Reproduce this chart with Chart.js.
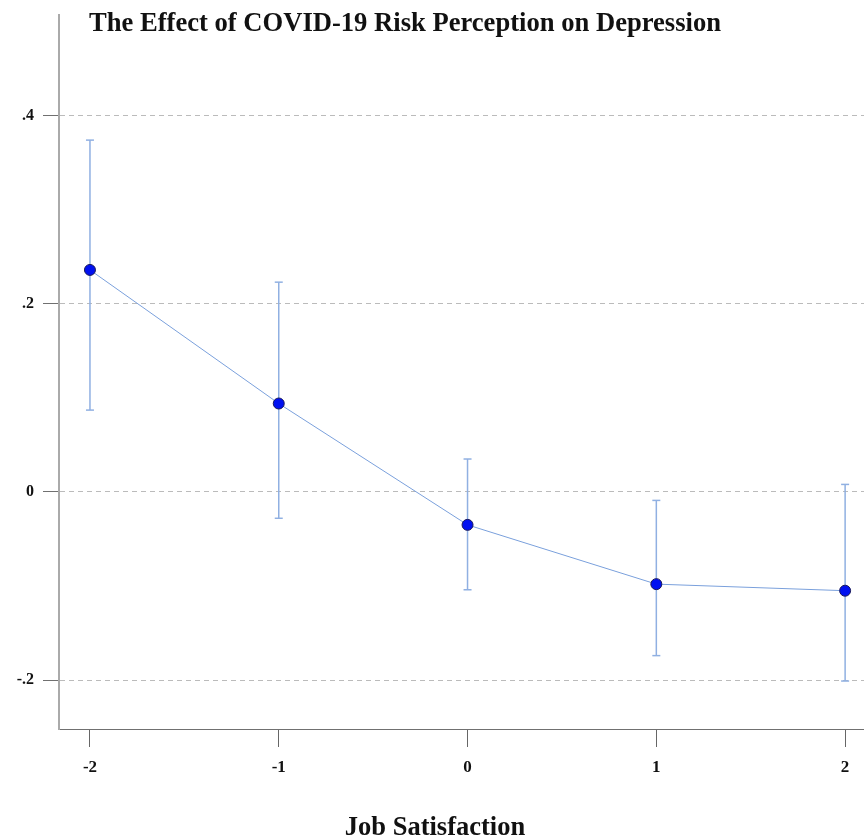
<!DOCTYPE html>
<html>
<head>
<meta charset="utf-8">
<script src="https://cdn.jsdelivr.net/npm/chart.js@4/dist/chart.umd.min.js"></script>
<style>
  html, body { margin: 0; padding: 0; background: #ffffff; overflow: hidden; }
  #c { display: block; width: 864px; height: 839px; }
</style>
</head>
<body>
<canvas id="c" width="864" height="839"></canvas>
<script>
// ---- data ----
const chartTitle = 'The Effect of COVID-19 Risk Perception on Depression';
const xAxisTitle = 'Job Satisfaction';
const categories = [-2, -1, 0, 1, 2];
const estimates = [0.236, 0.094, -0.035, -0.098, -0.105];
const ciLower = [0.087, -0.028, -0.104, -0.174, -0.201];
const ciUpper = [0.374, 0.223, 0.035, -0.009, 0.008];
const xTickLabels = ['-2', '-1', '0', '1', '2'];
const yTickValues = [-0.2, 0, 0.2, 0.4];
const yTickLabels = ['-.2', '0', '.2', '.4'];

const serif = '"Liberation Serif", "Times New Roman", "DejaVu Serif", serif';

const pointData = categories.map((x, i) => ({ x: x, y: estimates[i] }));
const errData = [];
categories.forEach((x, i) => {
  errData.push({ x: x, y: ciLower[i] });
  errData.push({ x: x, y: ciUpper[i] });
  errData.push({ x: x, y: null });
});

const textPlugin = {
  id: 'texts',
  afterDraw(chart) {
    const ctx = chart.ctx;
    ctx.save();
    ctx.fillStyle = '#111111';
    ctx.textAlign = 'center';
    ctx.textBaseline = 'alphabetic';
    ctx.font = 'bold 26.6px ' + serif;
    ctx.fillText(chartTitle, 405, 31);
    ctx.font = 'bold 26.5px ' + serif;
    ctx.fillText(xAxisTitle, 435, 835);
    ctx.restore();
  }
};

new Chart(document.getElementById('c'), {
  type: 'line',
  data: {
    datasets: [
      {
        label: 'Estimate',
        data: pointData,
        borderColor: '#7aa0dc',
        borderWidth: 1,
        pointBackgroundColor: '#0010f0',
        pointBorderColor: '#1a1a5a',
        pointBorderWidth: 1,
        pointRadius: 5.5,
        pointHoverRadius: 5.5,
        tension: 0,
        order: 0
      },
      {
        label: 'CI',
        data: errData,
        borderColor: '#90b0e2',
        borderWidth: 1.5,
        spanGaps: false,
        pointStyle: 'line',
        pointRadius: 4,
        pointHoverRadius: 4,
        pointBorderColor: '#90b0e2',
        pointBorderWidth: 1.5,
        order: 1
      }
    ]
  },
  options: {
    responsive: false,
    maintainAspectRatio: false,
    animation: false,
    devicePixelRatio: 1,
    layout: { autoPadding: false, padding: { top: 15, right: 0, left: 0, bottom: 0 } },
    plugins: {
      legend: { display: false },
      tooltip: { enabled: false },
      title: { display: false }
    },
    scales: {
      x: {
        type: 'linear',
        min: -2.164,
        max: 2.1,
        afterBuildTicks: (s) => { s.ticks = categories.map(v => ({ value: v })); },
        afterFit: (s) => { s.height = 110; s.paddingLeft = 0; s.paddingRight = 0; },
        grid: {
          drawOnChartArea: false,
          drawTicks: true,
          tickLength: 18,
          tickColor: '#666666',
          tickWidth: 1,
          tickBorderDash: []
        },
        border: { display: true, color: '#707070', width: 1 },
        ticks: {
          autoSkip: false,
          maxRotation: 0,
          padding: 10,
          color: '#111111',
          font: { family: serif, size: 17, weight: 'bold' },
          callback: (v) => { const i = categories.indexOf(v); return i >= 0 ? xTickLabels[i] : ''; }
        }
      },
      y: {
        type: 'linear',
        min: -0.252,
        max: 0.507,
        afterBuildTicks: (s) => { s.ticks = yTickValues.map(v => ({ value: v })); },
        afterFit: (s) => { s.width = 59; s.paddingTop = 0; s.paddingBottom = 0; },
        grid: {
          drawOnChartArea: true,
          drawTicks: true,
          tickLength: 16,
          color: '#bbbbbb',
          lineWidth: 1,
          tickColor: '#707070',
          tickWidth: 1,
          tickBorderDash: []
        },
        border: { display: true, color: '#aaaaaa', width: 2, dash: [5, 4] },
        ticks: {
          autoSkip: false,
          padding: 9,
          color: '#111111',
          font: { family: serif, size: 16, weight: 'bold' },
          callback: (v) => { const i = yTickValues.findIndex(t => Math.abs(t - v) < 1e-9); return i >= 0 ? yTickLabels[i] : ''; }
        }
      }
    }
  },
  plugins: [textPlugin]
});
</script>
</body>
</html>
